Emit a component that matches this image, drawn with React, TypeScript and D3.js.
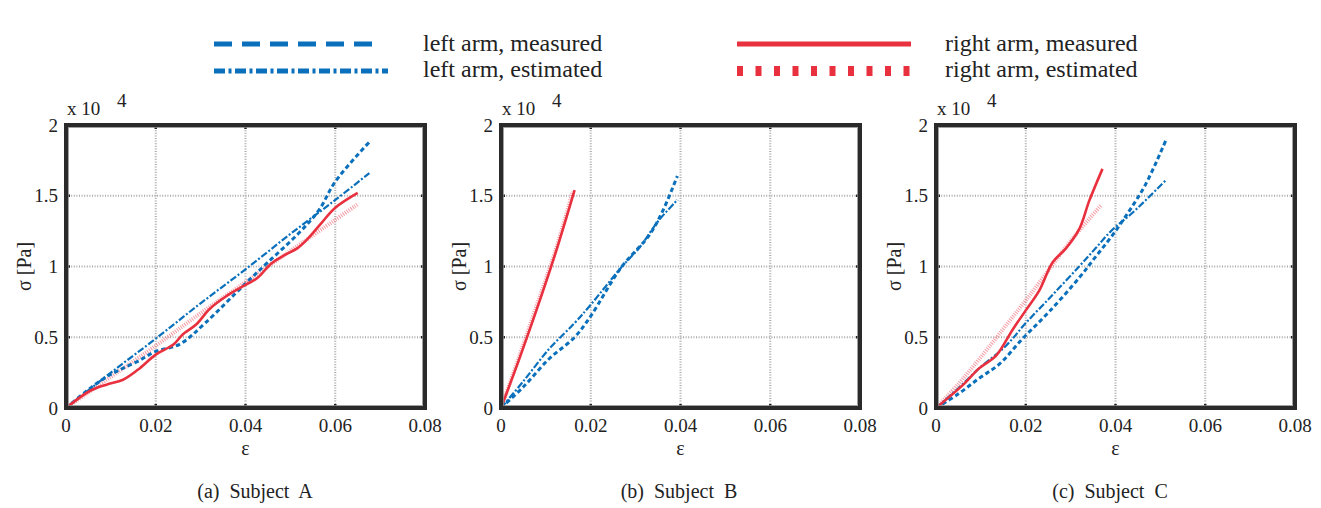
import React from 'react'
import * as d3 from 'd3'

// stress in units of 1e4 Pa, strain dimensionless
const xTicks = [0, 0.02, 0.04, 0.06, 0.08]
const yTicks = [0, 0.5, 1, 1.5, 2]
const captions = ['(a)  Subject  A', '(b)  Subject  B', '(c)  Subject  C']

const leftMeasuredA = [[0, 0], [0.0046, 0.12], [0.009, 0.22], [0.012, 0.27], [0.016, 0.33], [0.02, 0.4], [0.0253, 0.45], [0.031, 0.6], [0.04, 0.88], [0.045, 1.03], [0.052, 1.24], [0.0564, 1.4], [0.06, 1.6], [0.0676, 1.88]]
const leftEstimatedA = [[0, 0], [0.01, 0.25], [0.02, 0.49], [0.03, 0.74], [0.04, 0.98], [0.05, 1.23], [0.06, 1.47], [0.0676, 1.66]]
const rightMeasuredA = [[0, 0], [0.0053, 0.12], [0.009, 0.165], [0.0127, 0.2], [0.016, 0.27], [0.02, 0.377], [0.024, 0.45], [0.026, 0.52], [0.029, 0.59], [0.032, 0.7], [0.0357, 0.79], [0.04, 0.87], [0.0427, 0.92], [0.0457, 1.02], [0.0487, 1.08], [0.0516, 1.13], [0.054, 1.2], [0.057, 1.31], [0.06, 1.415], [0.065, 1.52]]
const rightEstimatedA = [[0, 0], [0.01, 0.22], [0.02, 0.44], [0.03, 0.67], [0.04, 0.89], [0.05, 1.11], [0.06, 1.33], [0.065, 1.44]]

const leftMeasuredB = [[0, 0], [0.005, 0.15], [0.0108, 0.35], [0.0164, 0.5], [0.02, 0.65], [0.0267, 0.99], [0.033, 1.22], [0.036, 1.39], [0.0393, 1.64]]
const leftEstimatedB = [[0, 0], [0.005, 0.19], [0.0108, 0.42], [0.0164, 0.6], [0.02, 0.73], [0.0267, 0.99], [0.031, 1.14], [0.035, 1.32], [0.0393, 1.47]]
const rightMeasuredB = [[0, 0], [0.004, 0.34], [0.008, 0.7], [0.012, 1.08], [0.0164, 1.54]]
const rightEstimatedB = [[0, 0], [0.004, 0.36], [0.008, 0.73], [0.012, 1.1], [0.016, 1.53]]

const leftMeasuredC = [[0, 0], [0.005, 0.1], [0.0096, 0.21], [0.0141, 0.31], [0.0193, 0.49], [0.0252, 0.68], [0.0319, 0.92], [0.0356, 1.07], [0.0393, 1.22], [0.043, 1.39], [0.0467, 1.58], [0.0512, 1.89]]
const leftEstimatedC = [[0, 0], [0.005, 0.14], [0.0096, 0.28], [0.0156, 0.44], [0.02, 0.6], [0.026, 0.8], [0.0319, 1.0], [0.0356, 1.13], [0.0393, 1.26], [0.0438, 1.38], [0.0512, 1.61]]
const rightMeasuredC = [[0, 0], [0.0059, 0.16], [0.0096, 0.28], [0.0134, 0.37], [0.017, 0.55], [0.02, 0.69], [0.023, 0.83], [0.026, 1.03], [0.029, 1.13], [0.032, 1.27], [0.0341, 1.46], [0.0371, 1.69]]
const rightEstimatedC = [[0, 0], [0.005, 0.17], [0.01, 0.36], [0.015, 0.56], [0.02, 0.76], [0.025, 0.97], [0.03, 1.18], [0.0367, 1.43]]

const panels = [
  { rm: rightMeasuredA, re: rightEstimatedA, lm: leftMeasuredA, le: leftEstimatedA },
  { rm: rightMeasuredB, re: rightEstimatedB, lm: leftMeasuredB, le: leftEstimatedB },
  { rm: rightMeasuredC, re: rightEstimatedC, lm: leftMeasuredC, le: leftEstimatedC }
]

const BLUE = '#0b70bb'
const RED = '#e8303e'
const FONT = 'Liberation Serif'

const PW = 359
const PH = 283
const TOP = 125
const LEFTS = [66, 501, 936]
const CAP_X = [255, 679, 1110]

const fmt = (v: number) => (v === 0 ? '0' : String(v))

const Panel = ({ idx }: { idx: number }) => {
  const left = LEFTS[idx]
  const x = d3.scaleLinear().domain([0, 0.08]).range([left, left + PW])
  const y = d3.scaleLinear().domain([0, 2]).range([TOP + PH, TOP])
  const line = d3
    .line<number[]>()
    .x(d => x(d[0]))
    .y(d => y(d[1]))
    .curve(d3.curveCatmullRom)
  const p = panels[idx]
  const bottom = TOP + PH

  return (
    <g fontFamily={FONT}>
      {/* grid */}
      {xTicks.slice(1, -1).map(t => (
        <line key={'gx' + t} x1={x(t)} x2={x(t)} y1={TOP} y2={bottom} stroke="#a8a8a8" strokeWidth={2} strokeDasharray="1,1.6" />
      ))}
      {yTicks.slice(1, -1).map(t => (
        <line key={'gy' + t} x1={left} x2={left + PW} y1={y(t)} y2={y(t)} stroke="#a8a8a8" strokeWidth={2} strokeDasharray="1,1.6" />
      ))}
      {/* series */}
      <path d={line(p.re) || ''} fill="none" stroke="#ef6f7a" strokeOpacity={0.7} strokeWidth={4} strokeDasharray="1,1.3" />
      <path d={line(p.le) || ''} fill="none" stroke={BLUE} strokeWidth={2.2} strokeDasharray="7,2,2,2" />
      <path d={line(p.lm) || ''} fill="none" stroke={BLUE} strokeWidth={3} strokeDasharray="4.5,3" />
      <path d={line(p.rm) || ''} fill="none" stroke={RED} strokeWidth={2.6} />
      {/* ticks */}
      {xTicks.slice(1, -1).map(t => (
        <g key={'tx' + t}>
          <line x1={x(t)} x2={x(t)} y1={bottom} y2={bottom - 4} stroke="#222" strokeWidth={2.5} />
          <line x1={x(t)} x2={x(t)} y1={TOP} y2={TOP + 4} stroke="#222" strokeWidth={2.5} />
        </g>
      ))}
      {yTicks.slice(1, -1).map(t => (
        <g key={'ty' + t}>
          <line x1={left} x2={left + 4} y1={y(t)} y2={y(t)} stroke="#222" strokeWidth={2.5} />
          <line x1={left + PW} x2={left + PW - 4} y1={y(t)} y2={y(t)} stroke="#222" strokeWidth={2.5} />
        </g>
      ))}
      <rect x={left} y={TOP} width={PW} height={PH} fill="none" stroke="#2a2a2a" strokeWidth={4} />
      <rect x={left + 2.5} y={TOP + 2.5} width={PW - 5} height={PH - 5} fill="none" stroke="#8a8a8a" strokeWidth={0.8} />
      {/* tick labels */}
      {xTicks.map(t => (
        <text key={'lx' + t} x={x(t)} y={bottom + 24} textAnchor="middle" fontSize={19} fill="#222">
          {fmt(t)}
        </text>
      ))}
      {yTicks.map(t => (
        <text key={'ly' + t} x={left - 8} y={y(t)} dy="0.35em" textAnchor="end" fontSize={19} fill="#222">
          {fmt(t)}
        </text>
      ))}
      <text x={left + 1} y={115} fontSize={19} fill="#222">x 10</text>
      <text x={left + 51} y={107} fontSize={19} fill="#222">4</text>
      <text x={left + PW / 2} y={455} textAnchor="middle" fontSize={20} fill="#222">ε</text>
      <text transform={`translate(${left - 42},${TOP + PH / 2}) rotate(-90)`} dy="0.35em" textAnchor="middle" fontSize={20} fill="#222">
        σ [Pa]
      </text>
      <text x={CAP_X[idx]} y={498} textAnchor="middle" fontSize={20} fill="#222" style={{ whiteSpace: 'pre' }}>
        {captions[idx]}
      </text>
    </g>
  )
}

const Legend = () => (
  <g fontSize={24} fill="#222" fontFamily={FONT}>
    <line x1={214} x2={382} y1={44} y2={44} stroke={BLUE} strokeWidth={5} strokeDasharray="18,10" />
    <text x={423} y={51}>left arm, measured</text>
    <line x1={214} x2={388} y1={71} y2={71} stroke={BLUE} strokeWidth={5} strokeDasharray="11,3.5,3,3.5" />
    <text x={423} y={77}>left arm, estimated</text>
    <line x1={737} x2={911} y1={44} y2={44} stroke={RED} strokeWidth={5} />
    <text x={945} y={51}>right arm, measured</text>
    <line x1={737} x2={911} y1={71} y2={71} stroke={RED} strokeWidth={10} strokeDasharray="6,12.5" />
    <text x={945} y={77}>right arm, estimated</text>
  </g>
)

export default function App() {
  return (
    <svg
      width={1321}
      height={508}
      fontFamily={FONT}
      style={{ position: 'absolute', left: 0, top: 0, background: '#fff' }}
    >
      <Legend />
      {[0, 1, 2].map(i => (
        <Panel key={i} idx={i} />
      ))}
    </svg>
  )
}
